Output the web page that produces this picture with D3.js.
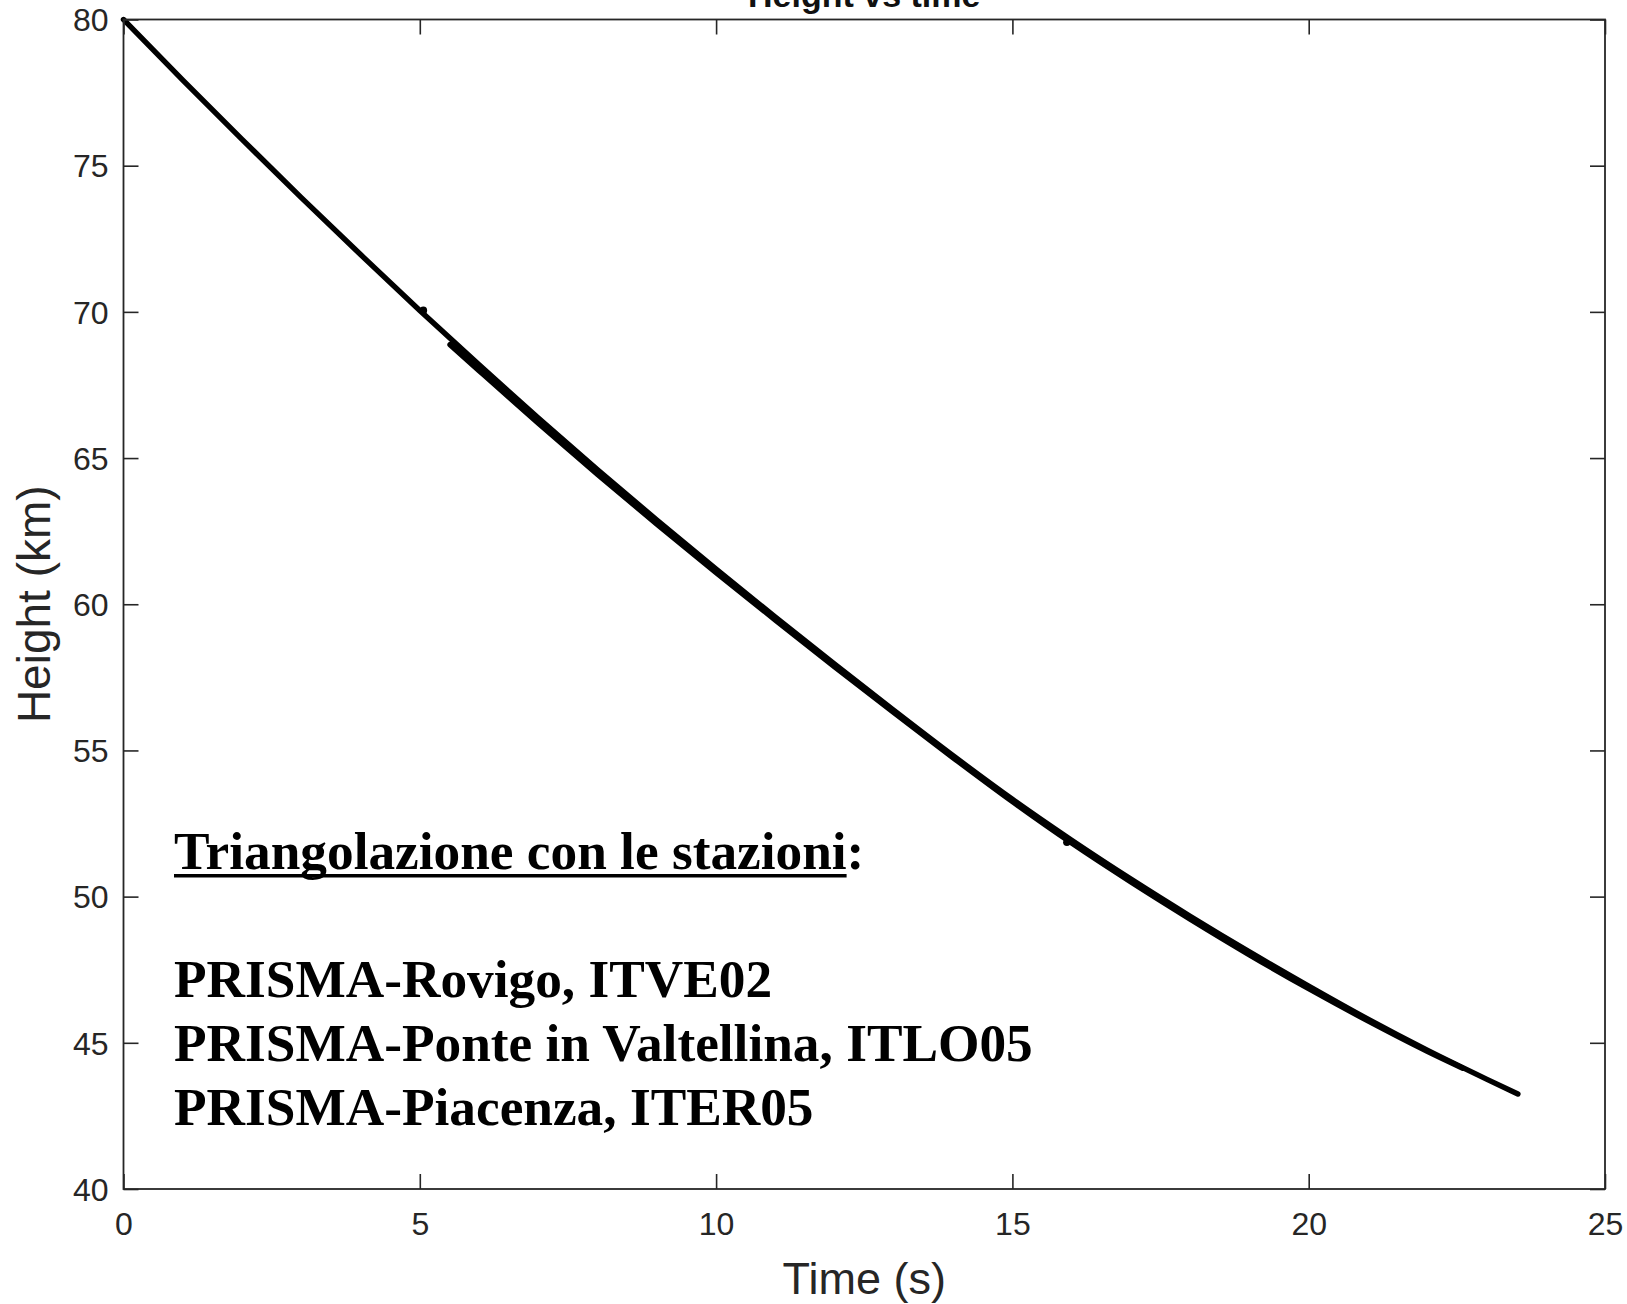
<!DOCTYPE html>
<html>
<head>
<meta charset="utf-8">
<script src="https://cdn.jsdelivr.net/npm/d3@7"></script>
<style>
  html, body { margin: 0; padding: 0; background: #fff; }
  svg { display: block; }
</style>
</head>
<body>
<svg id="chart" width="1627" height="1304"></svg>
<script>
// Track 1: full trajectory, time (s) and height (km)
const timeTrackA = [0, 1, 2, 3, 4, 5, 6, 7, 8, 9, 10, 11, 12, 13, 14, 15, 16, 17, 18, 19, 20, 21, 22, 23, 23.53];
const heightTrackA = [80.00, 77.93, 75.90, 73.91, 71.96, 70.05, 68.19, 66.37, 64.60, 62.88, 61.20, 59.56, 57.95, 56.37, 54.82, 53.33, 51.93, 50.60, 49.33, 48.11, 46.94, 45.81, 44.75, 43.76, 43.25];

// Track 2: second solution, starts later and runs just below track 1
const timeTrackB = [5.51, 6, 7, 8, 9, 10, 11, 12, 13, 14, 15, 16, 17, 18, 19, 20, 21, 22, 22.6];
const heightTrackB = [68.88, 67.99, 66.19, 64.44, 62.74, 61.08, 59.46, 57.86, 56.29, 54.75, 53.25, 51.83, 50.50, 49.23, 48.01, 46.85, 45.75, 44.71, 44.13];

// Isolated samples sitting on the track
const spikeTimes = [5.06, 15.92];
const spikeHeights = [70.05, 51.86];

// Axis ticks and labels
const xTicks = [0, 5, 10, 15, 20, 25];
const yTicks = [40, 45, 50, 55, 60, 65, 70, 75, 80];
const chartTitle = "Height vs time";
const xLabel = "Time (s)";
const yLabel = "Height (km)";
const noteHeading = "Triangolazione con le stazioni";
const noteLines = ["PRISMA-Rovigo, ITVE02", "PRISMA-Ponte in Valtellina, ITLO05", "PRISMA-Piacenza, ITER05"];

(function drawChart() {
  const svg = d3.select("#chart");
  const plotLeft = 123.5, plotRight = 1605, plotTop = 19.5, plotBottom = 1189;
  const axisColor = "#262626";
  const sansFont = "'Liberation Sans', Arial, Helvetica, sans-serif";
  const serifFont = "'Liberation Serif', 'Times New Roman', serif";

  const x = d3.scaleLinear().domain([0, 25]).range([plotLeft, plotRight]);
  const y = d3.scaleLinear().domain([40, 80]).range([plotBottom, plotTop]);

  // Plot background
  svg.append("rect").attr("x", plotLeft).attr("y", plotTop)
    .attr("width", plotRight - plotLeft).attr("height", plotBottom - plotTop).attr("fill", "#fff");

  // Data lines
  const line = d3.line()
    .x(d => x(d[0])).y(d => y(d[1]))
    .curve(d3.curveMonotoneX);

  const trackA = d3.zip(timeTrackA, heightTrackA);
  const trackB = d3.zip(timeTrackB, heightTrackB);

  [trackA, trackB].forEach(track => {
    svg.append("path")
      .datum(track)
      .attr("d", line)
      .attr("fill", "none")
      .attr("stroke", "#000")
      .attr("stroke-width", 5.4)
      .attr("stroke-linecap", "round")
      .attr("stroke-linejoin", "round");
  });

  svg.selectAll("circle.spike")
    .data(d3.zip(spikeTimes, spikeHeights))
    .join("circle")
    .attr("class", "spike")
    .attr("cx", d => x(d[0])).attr("cy", d => y(d[1]))
    .attr("r", 3.8).attr("fill", "#000");

  // Axes with inward ticks on all four sides
  function styleAxis(g) {
    g.select(".domain").remove();
    g.selectAll(".tick line").attr("stroke", axisColor).attr("stroke-width", 1.6);
    g.selectAll(".tick text")
      .attr("fill", axisColor)
      .style("font-family", sansFont)
      .style("font-size", "32px");
  }

  svg.append("g")
    .attr("transform", `translate(0,${plotBottom})`)
    .call(d3.axisBottom(x).tickValues(xTicks).tickSizeInner(-15).tickSizeOuter(0).tickFormat(d3.format("d")))
    .call(styleAxis)
    .call(g => g.selectAll(".tick text").attr("y", 23).attr("dy", "0.71em"));

  svg.append("g")
    .attr("transform", `translate(0,${plotTop})`)
    .call(d3.axisTop(x).tickValues(xTicks).tickSizeInner(-15).tickSizeOuter(0).tickFormat(""))
    .call(styleAxis);

  svg.append("g")
    .attr("transform", `translate(${plotLeft},0)`)
    .call(d3.axisLeft(y).tickValues(yTicks).tickSizeInner(-15).tickSizeOuter(0).tickFormat(d3.format("d")))
    .call(styleAxis)
    .call(g => g.selectAll(".tick text").attr("x", -15).attr("dy", "0.35em"));

  svg.append("g")
    .attr("transform", `translate(${plotRight},0)`)
    .call(d3.axisRight(y).tickValues(yTicks).tickSizeInner(-15).tickSizeOuter(0).tickFormat(""))
    .call(styleAxis);

  // Axes box
  svg.append("rect")
    .attr("x", plotLeft).attr("y", plotTop)
    .attr("width", plotRight - plotLeft).attr("height", plotBottom - plotTop)
    .attr("fill", "none").attr("stroke", axisColor).attr("stroke-width", 1.8);

  // Title, sitting at the top edge of the page
  svg.append("text")
    .attr("x", (plotLeft + plotRight) / 2).attr("y", 7)
    .attr("text-anchor", "middle")
    .attr("fill", "#111")
    .style("font-family", sansFont)
    .style("font-weight", "bold")
    .style("font-size", "34px")
    .text(chartTitle);

  // Axis titles
  svg.append("text")
    .attr("x", (plotLeft + plotRight) / 2).attr("y", 1294)
    .attr("text-anchor", "middle")
    .attr("fill", axisColor)
    .style("font-family", sansFont)
    .style("font-size", "45px")
    .text(xLabel);

  svg.append("text")
    .attr("transform", `translate(50,${(plotTop + plotBottom) / 2}) rotate(-90)`)
    .attr("text-anchor", "middle")
    .attr("fill", axisColor)
    .style("font-family", sansFont)
    .style("font-size", "46px")
    .text(yLabel);

  // Station note
  const noteX = 174, noteBase = 869, noteStep = 64, noteSize = 53.3;
  const heading = svg.append("text")
    .attr("x", noteX).attr("y", noteBase)
    .attr("fill", "#000")
    .style("font-family", serifFont)
    .style("font-weight", "bold")
    .style("font-size", noteSize + "px");
  heading.append("tspan").text(noteHeading);
  heading.append("tspan").text(":");

  const underlineWidth = heading.node().getSubStringLength(0, noteHeading.length);
  svg.append("rect")
    .attr("x", noteX).attr("y", noteBase + 5)
    .attr("width", underlineWidth).attr("height", 3.5)
    .attr("fill", "#000");

  svg.selectAll("text.station")
    .data(noteLines)
    .join("text")
    .attr("class", "station")
    .attr("x", noteX)
    .attr("y", (d, i) => noteBase + noteStep * (i + 2))
    .attr("fill", "#000")
    .style("font-family", serifFont)
    .style("font-weight", "bold")
    .style("font-size", noteSize + "px")
    .text(d => d);
})();
</script>
</body>
</html>
